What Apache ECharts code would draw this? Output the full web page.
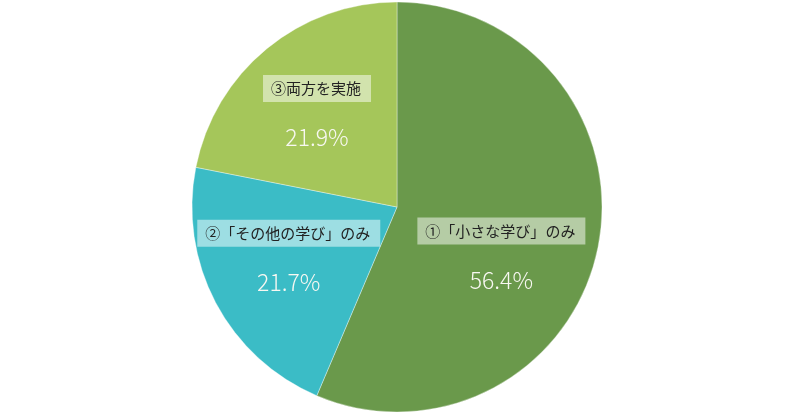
<!DOCTYPE html>
<html>
<head>
<meta charset="utf-8">
<script src="https://cdn.jsdelivr.net/npm/echarts@6/dist/echarts.min.js"></script>
<style>
    html, body { margin: 0; padding: 0; background: #fff; }
    #main { width: 800px; height: 415px; }
</style>
</head>
<body>
<div id="main"></div>
<script type="text/javascript">
    // 区分
    var categories = ['①「小さな学び」のみ', '②「その他の学び」のみ', '③両方を実施'];
    var shares = [56.4, 21.7, 21.9];
    var colors = ['#6a994b', '#3bbcc6', '#a5c65a'];
    // ラベル位置の微調整 (px)
    var labelShift = [[1, 44], [-15, 18], [-13, 4]];

    var seriesData = [];
    for (var i = 0; i < categories.length; i++) {
        seriesData.push({
            name: categories[i],
            value: shares[i],
            itemStyle: { color: colors[i] }
        });
    }

    var myChart = echarts.init(document.getElementById('main'));

    var option = {
        animation: false,
        series: [{
            type: 'pie',
            center: [397, 207],
            radius: 205,
            startAngle: 90,
            clockwise: true,
            data: seriesData,
            itemStyle: {
                borderColor: 'rgba(255,255,255,0.6)',
                borderWidth: 0.6
            },
            label: {
                show: true,
                position: 'inside',
                fontFamily: 'Noto Sans CJK JP',
                formatter: function (p) {
                    return '{box|' + p.name + '}\n{pct|' + p.value + '%}';
                },
                rich: {
                    box: {
                        fontFamily: 'Noto Sans CJK JP',
                        fontSize: 15,
                        color: '#222',
                        backgroundColor: 'rgba(255,255,255,0.5)',
                        padding: [6, 10, 6, 8],
                        lineHeight: 16
                    },
                    pct: {
                        fontFamily: 'Noto Sans CJK JP',
                        fontSize: 23,
                        fontWeight: 300,
                        color: '#f8f8f2',
                        lineHeight: 82
                    }
                }
            },
            labelLine: { show: false },
            labelLayout: function (params) {
                var s = labelShift[params.dataIndex];
                return { dx: s[0], dy: s[1] };
            }
        }]
    };

    myChart.setOption(option);
</script>
</body>
</html>
